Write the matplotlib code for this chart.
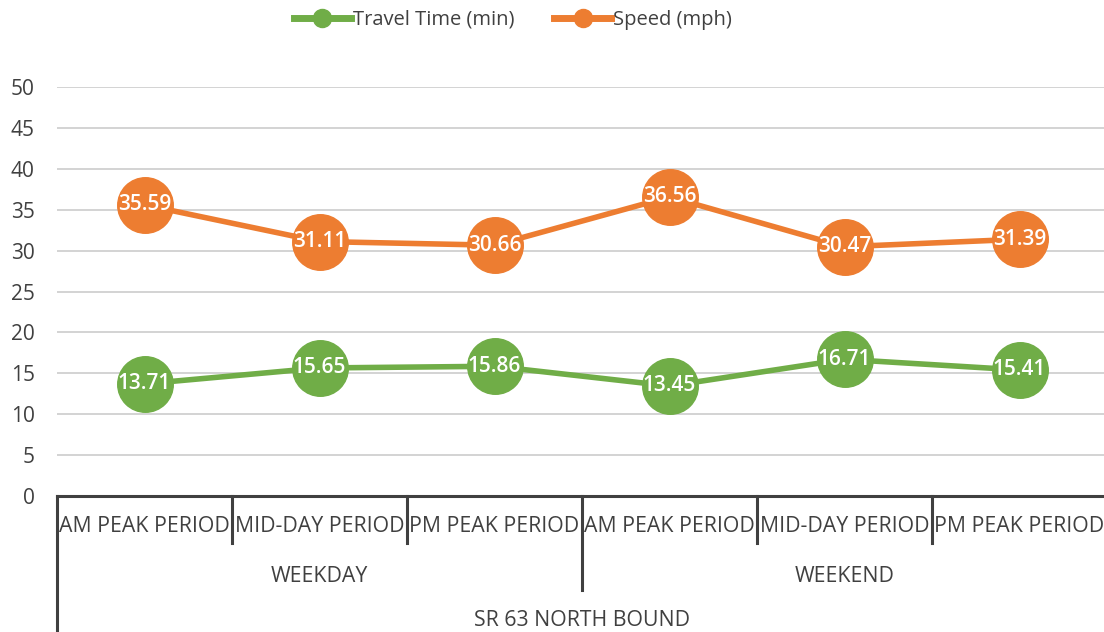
import matplotlib
matplotlib.use("Agg")
import matplotlib.pyplot as plt
import matplotlib.transforms as mtransforms
from matplotlib.lines import Line2D

periods = ["AM PEAK PERIOD", "MID-DAY PERIOD", "PM PEAK PERIOD",
           "AM PEAK PERIOD", "MID-DAY PERIOD", "PM PEAK PERIOD"]
day_groups = ["WEEKDAY", "WEEKEND"]
route = "SR 63 NORTH BOUND"
travel_time = [13.71, 15.65, 15.86, 13.45, 16.71, 15.41]
speed = [35.59, 31.11, 30.66, 36.56, 30.47, 31.39]
yticks = [0, 5, 10, 15, 20, 25, 30, 35, 40, 45, 50]

GREEN = "#70AD47"
ORANGE = "#ED7D31"
FONT = "Open Sans"
TXT = "#404040"

W, H = 1104, 632
fig = plt.figure(figsize=(W / 100, H / 100), dpi=100)
left_px, right_px, top_px, bot_px = 57, 1107, 87, 496
ax = fig.add_axes([left_px / W, 1 - bot_px / H, (right_px - left_px) / W, (bot_px - top_px) / H])

n = len(periods)
x = list(range(n))
ax.set_xlim(-0.5, n - 0.5)
ax.set_ylim(0, 50)
for s in ax.spines.values():
    s.set_visible(False)
ax.set_yticks(yticks)
ax.yaxis.grid(True, color="#D0D0D0", linewidth=1.3)
ax.set_axisbelow(True)
ax.tick_params(axis="y", length=0, pad=16, labelsize=15, labelcolor=TXT)
for lab in ax.get_yticklabels():
    lab.set_fontfamily(FONT)
ax.set_xticks([])

ax.plot(x, travel_time, color=GREEN, lw=4, marker="o", ms=40, zorder=3, clip_on=False)
ax.plot(x, speed, color=ORANGE, lw=4, marker="o", ms=40, zorder=3, clip_on=False)
for xi, v in zip(x, travel_time):
    ax.text(xi, v, f"{v:.2f}", color="white", ha="center", va="center",
            fontsize=15, fontfamily=FONT, fontweight="semibold", zorder=4)
for xi, v in zip(x, speed):
    ax.text(xi, v, f"{v:.2f}", color="white", ha="center", va="center",
            fontsize=15, fontfamily=FONT, fontweight="semibold", zorder=4)

# multi-level category axis
trans = mtransforms.blended_transform_factory(ax.transData, fig.transFigure)
def fy(py):
    return 1 - py / H
axis_col = "#404040"
ax.plot([-0.5, n - 0.5], [fy(496)] * 2, transform=trans, color=axis_col, lw=2.2, clip_on=False)
for b in range(1, n):
    if b == 3:
        continue
    ax.plot([b - 0.5, b - 0.5], [fy(496), fy(543)], transform=trans, color=axis_col, lw=2.2, clip_on=False)
ax.plot([2.5, 2.5], [fy(496), fy(590)], transform=trans, color=axis_col, lw=2.2, clip_on=False)
for b in [-0.5, n - 0.5]:
    ax.plot([b, b], [fy(496), fy(640)], transform=trans, color=axis_col, lw=2.2, clip_on=False)

for xi, p in zip(x, periods):
    ax.text(xi, fy(527), p, transform=trans, ha="center", va="center",
            fontsize=15.3, fontfamily=FONT, color=TXT)
for gi, g in enumerate(day_groups):
    ax.text(1 + 3 * gi, fy(576), g, transform=trans, ha="center", va="center",
            fontsize=15.3, fontfamily=FONT, color=TXT)
ax.text(2.5, fy(621), route, transform=trans, ha="center", va="center",
        fontsize=15.3, fontfamily=FONT, color=TXT)

# legend
handles = [Line2D([], [], color=GREEN, lw=5, marker="o", ms=13),
           Line2D([], [], color=ORANGE, lw=5, marker="o", ms=13)]
fig.legend(handles, ["Travel Time (min)", "Speed (mph)"], loc="center",
           bbox_to_anchor=(513 / W, 1 - 20 / H), ncol=2, frameon=False,
           prop={"family": FONT, "size": 14.5}, handlelength=2.8, handletextpad=0.1,
           columnspacing=2.0, labelcolor=TXT)

fig.savefig("out.png", dpi=100)
